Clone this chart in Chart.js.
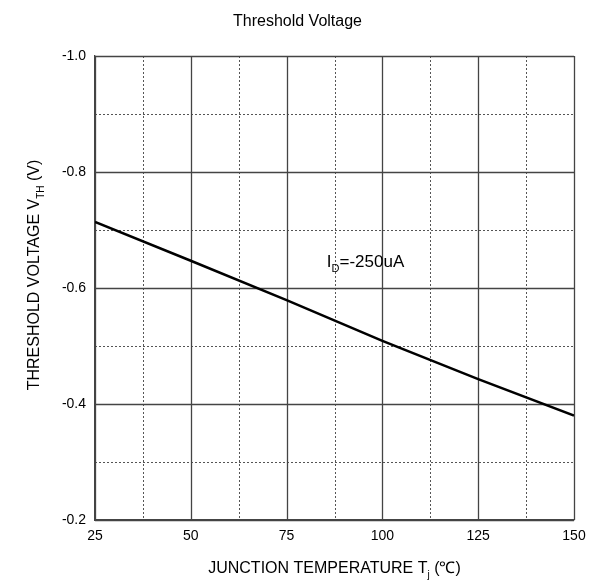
<!DOCTYPE html>
<html>
<head>
<meta charset="utf-8">
<script src="https://cdn.jsdelivr.net/npm/chart.js@4"></script>
<style>
html,body{margin:0;padding:0;background:#fff;}
#wrap{width:595px;height:581px;position:relative;}
</style>
</head>
<body>
<div id="wrap"><canvas id="c" width="595" height="581"></canvas></div>
<script>
// Data
const temperatures = [25, 50, 75, 100, 125, 150];
const thresholdVoltage = [-0.714, -0.647, -0.579, -0.509, -0.443, -0.380];
const xTickValues = [25, 50, 75, 100, 125, 150];
const xMinorValues = [37.5, 62.5, 87.5, 112.5, 137.5];
const yTickValues = [-1.0, -0.8, -0.6, -0.4, -0.2];
const yMinorValues = [-0.9, -0.7, -0.5, -0.3];
const chartTitle = 'Threshold Voltage';
const annotation = { x: 85.5, y: -0.637, main: 'I', sub: 'D', rest: '=-250uA' };

const FONT = '"Liberation Sans", Arial, sans-serif';

function drawSub(ctx, x, y, parts, size, subSize, align) {
  const widths = parts.map(p => {
    ctx.font = (p[1] ? subSize : size) + 'px ' + FONT;
    return ctx.measureText(p[0]).width;
  });
  const total = widths.reduce((a, b) => a + b, 0);
  let cx = align === 'center' ? x - total / 2 : x;
  ctx.textAlign = 'left';
  ctx.textBaseline = 'alphabetic';
  parts.forEach((p, i) => {
    ctx.font = (p[1] ? subSize : size) + 'px ' + FONT;
    ctx.fillText(p[0], cx, y + (p[1] ? size * 0.32 : 0));
    cx += widths[i];
  });
}

const gridPlugin = {
  id: 'customGrid',
  beforeDatasetsDraw(chart) {
    const ctx = chart.ctx;
    const xs = chart.scales.x, ys = chart.scales.y;
    const a = chart.chartArea;
    ctx.save();
    ctx.strokeStyle = '#555';
    ctx.lineWidth = 1;
    ctx.setLineDash([2, 2]);
    xMinorValues.forEach(v => {
      const px = Math.round(xs.getPixelForValue(v)) + 0.5;
      ctx.beginPath(); ctx.moveTo(px, a.top); ctx.lineTo(px, a.bottom); ctx.stroke();
    });
    yMinorValues.forEach(v => {
      const py = Math.round(ys.getPixelForValue(v)) + 0.5;
      ctx.beginPath(); ctx.moveTo(a.left, py); ctx.lineTo(a.right, py); ctx.stroke();
    });
    ctx.setLineDash([]);
    ctx.strokeStyle = '#444';
    ctx.lineWidth = 1.3;
    xTickValues.forEach(v => {
      const px = Math.round(xs.getPixelForValue(v)) + 0.5;
      ctx.beginPath(); ctx.moveTo(px, a.top); ctx.lineTo(px, a.bottom); ctx.stroke();
    });
    yTickValues.forEach(v => {
      const py = Math.round(ys.getPixelForValue(v)) + 0.5;
      ctx.beginPath(); ctx.moveTo(a.left, py); ctx.lineTo(a.right, py); ctx.stroke();
    });
    ctx.restore();
  },
  afterDraw(chart) {
    const ctx = chart.ctx;
    const a = chart.chartArea;
    const xs = chart.scales.x, ys = chart.scales.y;
    ctx.save();
    ctx.fillStyle = '#000';
    ctx.font = '16px ' + FONT;
    ctx.textAlign = 'center';
    ctx.textBaseline = 'alphabetic';
    ctx.fillText(chartTitle, (a.left + a.right) / 2 - 37, 26);
    drawSub(ctx, (a.left + a.right) / 2, 573, [['JUNCTION TEMPERATURE T', false], ['j', true], [' (\u2103)', false]], 16, 10, 'center');
    ctx.save();
    ctx.translate(38.5, 275);
    ctx.rotate(-Math.PI / 2);
    drawSub(ctx, 0, 0, [['THRESHOLD VOLTAGE V', false], ['TH', true], [' (V)', false]], 16, 10, 'center');
    ctx.restore();
    drawSub(ctx, xs.getPixelForValue(annotation.x), ys.getPixelForValue(annotation.y),
      [[annotation.main, false], [annotation.sub, true], [annotation.rest, false]], 17, 11, 'left');
    ctx.restore();
  }
};

new Chart(document.getElementById('c'), {
  type: 'scatter',
  data: {
    datasets: [{
      data: temperatures.map((t, i) => ({ x: t, y: thresholdVoltage[i] })),
      showLine: true,
      borderColor: '#000',
      borderWidth: 2.5,
      pointRadius: 0,
      tension: 0,
      fill: false
    }]
  },
  options: {
    responsive: false,
    animation: false,
    devicePixelRatio: 1,
    layout: { padding: { left: 0, right: 21, top: 56, bottom: 0 } },
    plugins: { legend: { display: false }, title: { display: false }, tooltip: { enabled: false } },
    scales: {
      x: {
        type: 'linear', min: 25, max: 150,
        afterFit(s) { s.height = 61; },
        afterBuildTicks(s) { s.ticks = xTickValues.map(v => ({ value: v })); },
        grid: { display: false, drawTicks: false },
        border: { display: true, color: '#444', width: 1.3 },
        ticks: { color: '#000', font: { family: FONT, size: 14 }, padding: 8, maxRotation: 0, autoSkip: false }
      },
      y: {
        type: 'linear', min: -1.0, max: -0.2, reverse: true,
        afterFit(s) { s.width = 95; },
        afterBuildTicks(s) { s.ticks = yTickValues.map(v => ({ value: v })); },
        grid: { display: false, drawTicks: false },
        border: { display: true, color: '#444', width: 1.3 },
        ticks: { color: '#000', font: { family: FONT, size: 14 }, padding: 9, autoSkip: false,
          callback: v => Number(v).toFixed(1) }
      }
    }
  },
  plugins: [gridPlugin]
});
</script>
</body>
</html>
